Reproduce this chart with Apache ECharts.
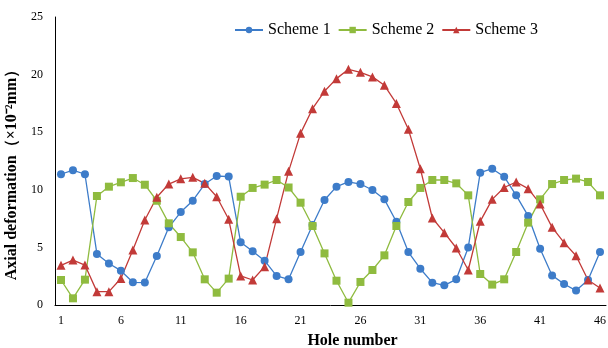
<!DOCTYPE html>
<html>
<head>
<meta charset="utf-8">
<script src="https://cdn.jsdelivr.net/npm/echarts@6/dist/echarts.min.js"></script>
<style>
  html, body { margin: 0; padding: 0; background: #fff; }
  #chart { width: 608px; height: 348px; }
</style>
</head>
<body>
<div id="chart"></div>
<script>
// hole numbers 1..46
const holes = [];
for (let i = 1; i <= 46; i++) holes.push(String(i));

const scheme1 = [
  11.35, 11.7, 11.35, 4.43, 3.6, 2.98, 1.97, 1.95, 4.25, 6.74,
  8.07, 9.05, 10.5, 11.2, 11.15, 5.44, 4.66, 3.85, 2.52, 2.23,
  4.6, 6.94, 9.11, 10.27, 10.68, 10.5, 9.98, 9.17, 7.23, 4.6,
  3.15, 1.94, 1.71, 2.23, 5.0, 11.49, 11.83, 11.14, 9.52, 7.73,
  4.89, 2.57, 1.82, 1.25, 2.17, 4.6
];
const scheme2 = [
  2.17, 0.58, 2.2, 9.46, 10.27, 10.65, 11.02, 10.44, 9.05, 7.09,
  5.9, 4.57, 2.23, 1.07, 2.29, 9.4, 10.16, 10.45, 10.85, 10.2,
  8.88, 6.86, 4.48, 2.11, 0.2, 2.0, 3.04, 4.31, 6.86, 8.94,
  10.16, 10.85, 10.85, 10.56, 9.52, 2.69, 1.77, 2.23, 4.6, 7.15,
  9.17, 10.5, 10.85, 10.97, 10.68, 9.52
];
const scheme3 = [
  3.44, 3.9, 3.47, 1.16, 1.16, 2.3, 4.77, 7.38, 9.35, 10.5,
  10.95, 11.08, 10.56, 9.4, 7.44, 2.52, 2.17, 3.33, 7.49, 11.6,
  14.9, 17.04, 18.55, 19.65, 20.46, 20.2, 19.8, 19.07, 17.5, 15.25,
  11.83, 7.55, 6.28, 4.95, 3.04, 7.26, 9.17, 10.2, 10.68, 10.1,
  8.77, 6.74, 5.41, 4.28, 2.17, 1.48
];

const font = '"Liberation Serif", "Times New Roman", serif';
const chart = echarts.init(document.getElementById('chart'));

function makeSeries(name, data, symbol, color) {
  return {
    name: name,
    type: 'line',
    data: data,
    symbol: symbol,
    symbolSize: symbol === 'triangle' ? 9 : 8,
    showSymbol: true,
    showAllSymbol: true,
    lineStyle: { color: color, width: 1.3 },
    itemStyle: { color: color, borderWidth: 0 },
    emphasis: { disabled: true },
    animation: false
  };
}

chart.setOption({
  animation: false,
  textStyle: { fontFamily: font },
  legend: {
    top: 17,
    left: 229,
    itemWidth: 28,
    itemHeight: 8,
    itemGap: 7,
    textStyle: { fontFamily: font, fontSize: 16, color: '#000' },
    data: ['Scheme 1', 'Scheme 2', 'Scheme 3']
  },
  grid: { left: 55, right: 2, top: 17, bottom: 43, outerBoundsMode: 'none', containLabel: false },
  xAxis: {
    type: 'category',
    data: holes,
    boundaryGap: true,
    axisLine: { lineStyle: { color: '#000', width: 1 } },
    axisTick: { show: false },
    axisLabel: { interval: 4, color: '#000', fontFamily: font, fontSize: 12, margin: 10 },
    name: 'Hole number',
    nameLocation: 'middle',
    nameGap: 28,
    nameTextStyle: { fontFamily: font, fontSize: 16, fontWeight: 'bold', color: '#000', padding: [0, 0, 0, 44] }
  },
  yAxis: {
    type: 'value',
    min: 0,
    max: 25,
    interval: 5,
    axisLine: { show: true, lineStyle: { color: '#000', width: 1 } },
    axisTick: { show: false },
    splitLine: { show: false },
    axisLabel: { color: '#000', fontFamily: font, fontSize: 12, margin: 12 },
    name: 'Axial deformation（×10⁻²mm）',
    nameLocation: 'middle',
    nameGap: 30,
    nameTextStyle: { fontFamily: font, fontSize: 16, fontWeight: 'bold', color: '#000', padding: [0, 20, 0, 0] }
  },
  series: [
    makeSeries('Scheme 1', scheme1, 'circle', '#3d7cc9'),
    makeSeries('Scheme 2', scheme2, 'rect', '#8fbb3f'),
    makeSeries('Scheme 3', scheme3, 'triangle', '#c23a38')
  ]
});
</script>
</body>
</html>
